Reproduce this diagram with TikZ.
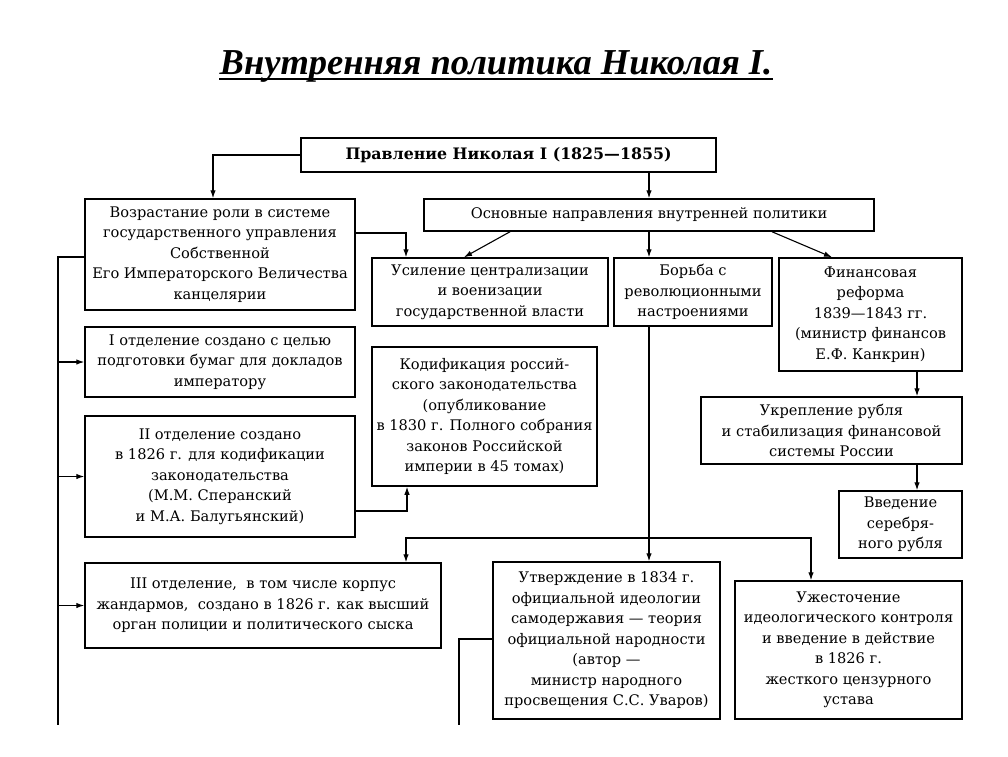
\documentclass[tikz,border=0pt]{standalone}
\usepackage{fontspec}
\setmainfont{DejaVu Serif}
\newfontfamily\titlefont{Liberation Serif}
\usetikzlibrary{arrows.meta,calc}
\newcommand{\boxfont}{\fontsize{14.6}{20.5}\selectfont}
\tikzset{
  box/.style={draw, line width=1.5pt, align=center, inner sep=0pt, font=\boxfont},
  conn/.style={line width=1.1pt},
  arr/.style={conn, -{Latex[length=8pt,width=5.5pt]}},
}
\begin{document}
\begin{tikzpicture}[x=1pt,y=-1pt]
\useasboundingbox (0,0) rectangle (1008,756);
% title
\node[font=\titlefont\fontsize{36.5}{40}\selectfont\bfseries\itshape, inner sep=0pt] (title) at (496,66) {Внутренняя политика Николая I.};
\draw[line width=2.4pt] ($(title.south west)+(0,-3)$) -- ($(title.south east)+(0,-3)$);

\node[box, minimum width=415, minimum height=34, font=\fontsize{15.8}{20}\selectfont\bfseries] (top) at (508.5,155) {Правление Николая I (1825—1855)};
\node[box, minimum width=270, minimum height=111] (voz) at (220,254.5) {Возрастание роли в системе\\ государственного управления\\ Собственной\\ Его Императорского Величества\\ канцелярии};
\node[box, minimum width=450, minimum height=32] (osn) at (649,215) {Основные направления внутренней политики};
\node[box, minimum width=236, minimum height=68] (usil) at (490,292) {Усиление централизации\\ и военизации\\ государственной власти};
\node[box, minimum width=158, minimum height=68] (borba) at (693,292) {Борьба с\\ революционными\\ настроениями};
\node[box, minimum width=183, minimum height=113] (fin) at (870.5,314.5) {Финансовая\\ реформа\\ 1839—1843 гг.\\ (министр финансов\\ Е.Ф. Канкрин)};
\node[box, minimum width=270, minimum height=70] (otdI) at (220,362) {I отделение создано с целью\\ подготовки бумаг для докладов\\ императору};
\node[box, minimum width=225, minimum height=139] (kod) at (484.5,416.5) {Кодификация россий-\\ ского законодательства\\ (опубликование\\ в 1830 г. Полного собрания\\ законов Российской\\ империи в 45 томах)};
\node[box, minimum width=261, minimum height=67] (ukr) at (831.5,430.5) {Укрепление рубля\\ и стабилизация финансовой\\ системы России};
\node[box, minimum width=270, minimum height=121] (otdII) at (220,476.5) {II отделение создано\\ в 1826 г. для кодификации\\ законодательства\\ (М.М. Сперанский\\ и М.А. Балугьянский)};
\node[box, minimum width=123, minimum height=67] (vved) at (900.5,524.5) {Введение\\ серебря-\\ ного рубля};
\node[box, minimum width=356, minimum height=85] (otdIII) at (263,605.5) {III отделение,\ \ в том числе корпус\\ жандармов,\ \ создано в 1826 г. как высший\\ орган полиции и политического сыска};
\node[box, minimum width=227, minimum height=157] (util) at (606.5,640.5) {Утверждение в 1834 г.\\ официальной идеологии\\ самодержавия — теория\\ официальной народности\\ (автор —\\ министр народного\\ просвещения С.С. Уваров)};
\node[box, minimum width=227, minimum height=138] (uzh) at (848.5,650) {Ужесточение\\ идеологического контроля\\ и введение в действие\\ в 1826 г.\\ жесткого цензурного\\ устава};

% connectors
\draw[arr] (top.west) -| (voz.north -| 213,0);
\draw[arr] (top.south -| osn.north) -- (osn.north);
\draw[arr] (osn.south -| 510,0) -- (usil.north -| 464,0);
\draw[arr] (osn.south) -- (osn.south |- borba.north);
\draw[arr] (osn.south -| 772,0) -- (fin.north -| 832,0);
\draw[arr] (voz.east |- 0,233) -| (usil.north -| 406,0);
\draw[arr] (otdII.east |- 0,511) -| (kod.south -| 407,0);
\coordinate (trunkT) at (58,257);
\coordinate (trunkB) at (58,725);
\draw[conn] (voz.west |- trunkT) -- (trunkT) -- (trunkB);
\draw[arr] (otdI.west -| trunkT) -- (otdI.west);
\draw[arr] (otdII.west -| trunkT) -- (otdII.west);
\draw[arr] (otdIII.west -| trunkT) -- (otdIII.west);
\draw[arr] (borba.south -| osn.south) -- (util.north -| osn.south);
\coordinate (br) at (650,538);
\draw[arr] (br) -| (otdIII.north -| 406,0);
\draw[arr] (br) -| (uzh.north -| 811,0);
\coordinate (utilB) at (459,725);
\draw[conn] (util.west |- 0,639) -| (utilB);
\draw[arr] (fin.south -| 917,0) -- (ukr.north -| 917,0);
\draw[arr] (ukr.south -| 917,0) -- (vved.north -| 917,0);
\end{tikzpicture}
\end{document}
